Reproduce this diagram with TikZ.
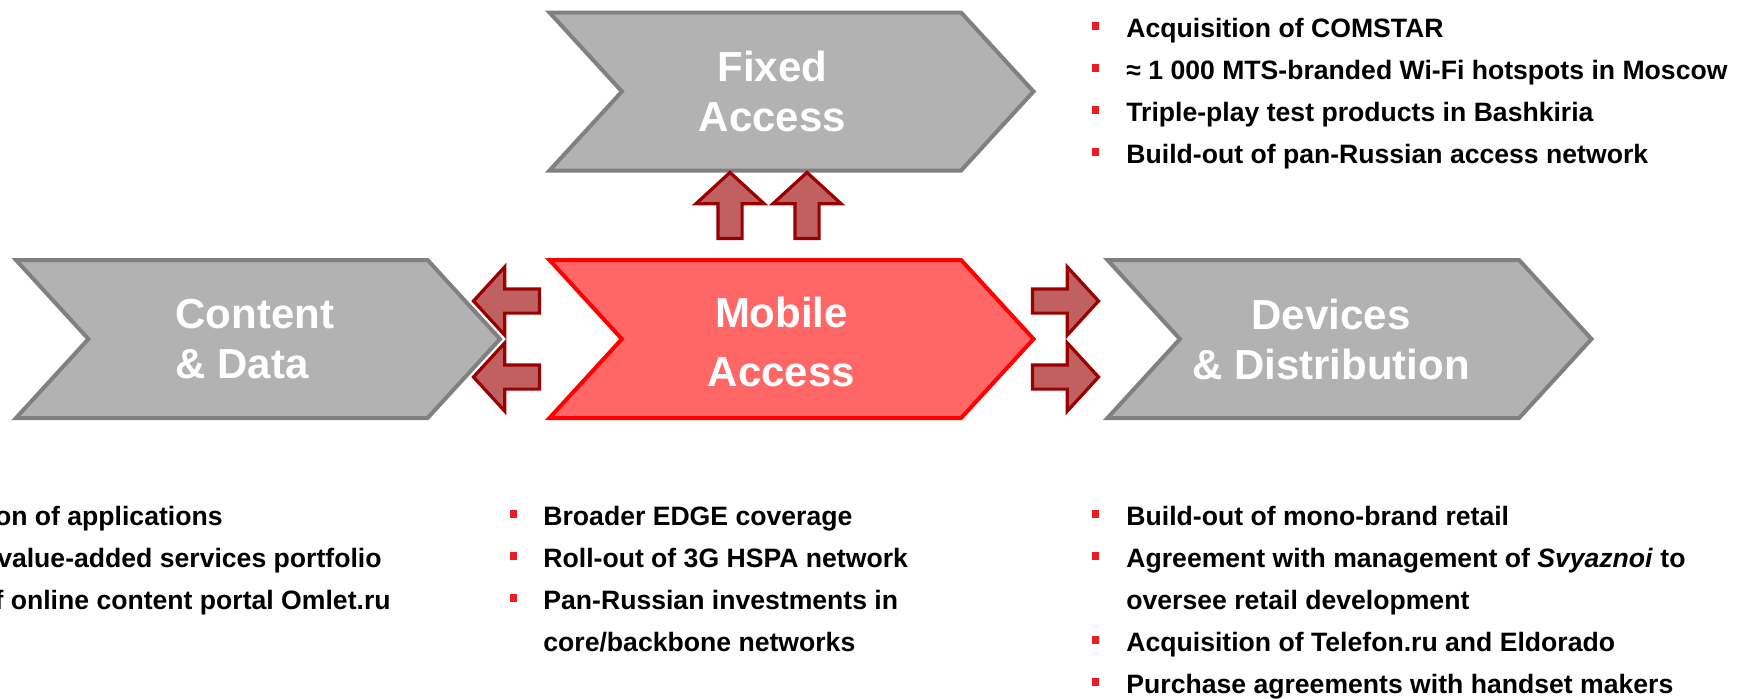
\documentclass[tikz,border=0pt]{standalone}
\usepackage{fontspec}
\setmainfont{Liberation Sans}
\usetikzlibrary{positioning,shapes.symbols,shapes.arrows}

\definecolor{chevgray}{RGB}{178,178,178}
\definecolor{chevline}{RGB}{128,128,128}
\definecolor{mobfill}{RGB}{255,102,102}
\definecolor{mobline}{RGB}{255,0,0}
\definecolor{arrfill}{RGB}{192,96,96}
\definecolor{arrline}{RGB}{153,0,0}
\definecolor{bulred}{RGB}{237,28,36}

\tikzset{
  chevron/.style={signal, signal from=west, signal to=east,
    signal pointer angle=95, minimum width=242pt, minimum height=79pt,
    inner sep=0pt, line width=2pt, draw=chevline, fill=chevgray},
  mobchev/.style={chevron, draw=mobline, fill=mobfill},
  chevtext/.style={text=white, align=center, inner sep=0pt,
    font=\bfseries\fontsize{21}{25}\selectfont},
  fatarrow/.style={single arrow, single arrow tip angle=95,
    single arrow head extend=11pt, minimum width=26pt, minimum height=33pt,
    inner xsep=0pt, inner ysep=5.25pt, line width=1.6pt,
    draw=arrline, fill=arrfill},
  sqbullet/.style={fill=bulred, minimum width=3.5pt, minimum height=4pt, inner sep=0pt},
  listitem/.style={anchor=base west, inner sep=0pt,
    font=\bfseries\fontsize{13.3}{16}\selectfont}
}

\begin{document}
\begin{tikzpicture}[x=1pt,y=1pt,node distance=266.75pt]
\useasboundingbox (0,0) rectangle (872.5,-349);

% the four chevrons
\node[mobchev] (mob) at (395.75,-169.5) {};
\node[chevron] (fix) [above of=mob, node distance=123.75pt] {};
\node[chevron] (con) [left of=mob] {};
\node[chevron] (dev) [right of=mob, node distance=279pt] {};

% captions
\node[chevtext] (fix_t) at ([xshift=-9.5pt]fix.center) {Fixed\\Access};
\node[chevtext, anchor=west, align=left] (con_t) at ([xshift=-41.5pt]con.center) {Content\\\& Data};
\node[chevtext, font=\bfseries\fontsize{21}{29.5}\selectfont] (mob_t)
  at ([xshift=-5pt,yshift=-1.5pt]mob.center) {Mobile\\Access};
\node[chevtext] (dev_t) at ([xshift=-9.25pt]dev.center) {Devices\\\& Distribution};

% block arrows out of mobile access
\node[fatarrow, rotate=90] (up_1) at (365,-105.5) {};
\node[fatarrow, rotate=90] (up_2) at (403.5,-105.5) {};
\node[fatarrow, rotate=180] (lt_1) at (256,-150.5) {};
\node[fatarrow, rotate=180] (lt_2) at (256,-188.5) {};
\node[fatarrow] (rt_1) at (530,-150.5) {};
\node[fatarrow] (rt_2) at (530,-188.5) {};

% fixed access list
\foreach \txt [count=\i from 0] in {Acquisition of COMSTAR,
    ≈ 1 000 MTS-branded Wi-Fi hotspots in Moscow,
    Triple-play test products in Bashkiria,
    Build-out of pan-Russian access network}
  \node[listitem] (fix_l\i) at (563,-18.5-21*\i) {\txt};
\foreach \i in {0,...,3}
  \node[sqbullet] (fix_b\i) at (547.5,-13.15-21*\i) {};

% content list (runs off the left edge)
\node[listitem, anchor=base east] (con_l0) at (111.5,-262.5) {on of applications};
\node[listitem, anchor=base east] (con_l1) at (191,-283.5) {value-added services portfolio};
\node[listitem, anchor=base east] (con_l2) at (195.5,-304.5) {f online content portal Omlet.ru};

% mobile access list
\foreach \txt [count=\i from 0] in {Broader EDGE coverage,
    Roll-out of 3G HSPA network,
    Pan-Russian investments in,
    core/backbone networks}
  \node[listitem] (mob_l\i) at (271.5,-262.5-21*\i) {\txt};
\foreach \i in {0,1,2}
  \node[sqbullet] (mob_b\i) at (256.5,-257.15-21*\i) {};

% devices list
\foreach \txt [count=\i from 0] in {Build-out of mono-brand retail,
    Agreement with management of \textit{Svyaznoi} to,
    oversee retail development,
    Acquisition of Telefon.ru and Eldorado,
    Purchase agreements with handset makers}
  \node[listitem] (dev_l\i) at (563,-262.5-21*\i) {\txt};
\foreach \i in {0,1,3,4}
  \node[sqbullet] (dev_b\i) at (547.5,-257.15-21*\i) {};
\end{tikzpicture}
\end{document}
